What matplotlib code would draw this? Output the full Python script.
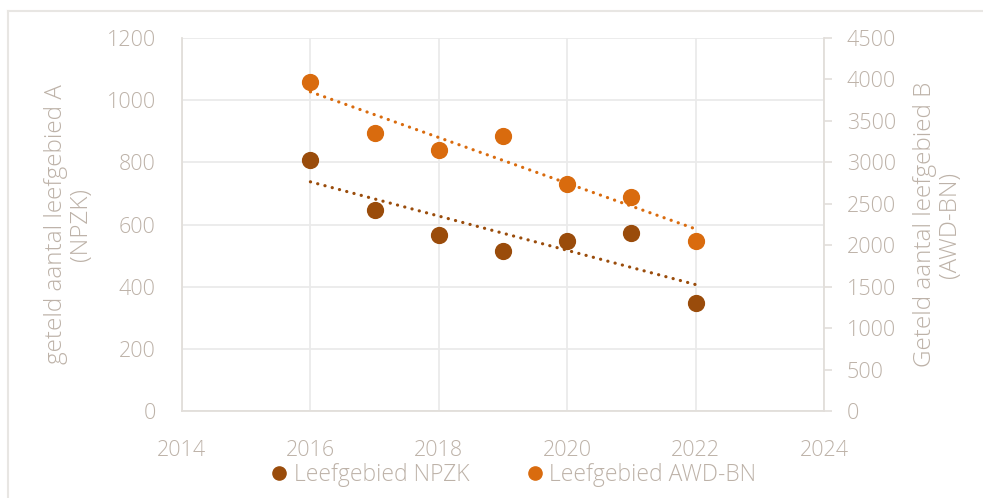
import numpy as np
import matplotlib
matplotlib.use("Agg")
import matplotlib.pyplot as plt
from matplotlib.lines import Line2D

years = [2016, 2017, 2018, 2019, 2020, 2021, 2022]
npzk = [808, 646, 566, 515, 547, 574, 348]
awd = [3973, 3354, 3152, 3314, 2735, 2585, 2051]

label_npzk = "Leefgebied NPZK"
label_awd = "Leefgebied AWD-BN"
ylabel_left = "geteld aantal leefgebied A\n(NPZK)"
ylabel_right = "Geteld aantal leefgebied B\n(AWD-BN)"
xticks = [2014, 2016, 2018, 2020, 2022, 2024]
yticks_left = [0, 200, 400, 600, 800, 1000, 1200]
yticks_right = [0, 500, 1000, 1500, 2000, 2500, 3000, 3500, 4000, 4500]

c_npzk = "#9A4C0B"
c_awd = "#D96B0E"
txt = "#BDB2A8"
grid = "#EAEAEA"
spine = "#E2DEDA"

plt.rcParams['font.family'] = ['Open Sans', 'DejaVu Sans']

fig = plt.figure(figsize=(9.83, 4.98), dpi=100)
ax = fig.add_axes([182/983, 1-411/498, (824-182)/983, (411-38)/498])
ax2 = ax.twinx()

ax.set_xlim(2014, 2024)
ax.set_ylim(0, 1200)
ax2.set_ylim(0, 4500)
ax.set_xticks(xticks)
ax.set_yticks(yticks_left)
ax2.set_yticks(yticks_right)

ax.grid(True, color=grid, linewidth=1.3)
ax.set_axisbelow(True)
for s in ['top', 'right']:
    ax.spines[s].set_visible(False)
ax.spines['left'].set_color(spine)
ax.spines['bottom'].set_color(spine)
ax.spines['left'].set_linewidth(1.3)
ax.spines['bottom'].set_linewidth(1.3)
for s in ['top', 'left', 'bottom']:
    ax2.spines[s].set_visible(False)
ax2.spines['right'].set_color(spine)
ax2.spines['right'].set_linewidth(1.3)

fs = 15.5
ax.tick_params(axis='y', length=0, pad=19, labelsize=fs, labelcolor=txt)
ax.tick_params(axis='x', length=0, pad=21, labelsize=fs, labelcolor=txt)
ax2.tick_params(axis='y', length=5.5, width=1.2, color=spine, pad=11, labelsize=fs, labelcolor=txt)
for lab in ax.get_xticklabels() + ax.get_yticklabels() + ax2.get_yticklabels():
    lab.set_fontweight('light')

# trendlines
x = np.array(years, dtype=float)
for vals, a, col in [(npzk, ax, c_npzk), (awd, ax2, c_awd)]:
    p = np.polyfit(x, np.array(vals, dtype=float), 1)
    xs = np.array([years[0], years[-1]], dtype=float)
    a.plot(xs, np.polyval(p, xs), color=col, linewidth=2.3,
           linestyle=(0, (0.05, 2.3)), dash_capstyle='round', zorder=2)

ax.scatter(years, npzk, s=130, color=c_npzk, zorder=3, clip_on=False)
ax2.scatter(years, awd, s=130, color=c_awd, zorder=3, clip_on=False)

ax.set_ylabel(ylabel_left, color=txt, fontsize=17.5, fontweight='light', labelpad=10, linespacing=1.05)
ax2.set_ylabel(ylabel_right, color=txt, fontsize=17.5, fontweight='light', labelpad=12, linespacing=1.05)

handles = [Line2D([], [], marker='o', linestyle='none', color=c_npzk, markersize=9.5),
           Line2D([], [], marker='o', linestyle='none', color=c_awd, markersize=9.5)]
leg = fig.legend(handles, [label_npzk, label_awd], loc='center', bbox_to_anchor=(512/983, 1-475/498),
                 ncol=2, frameon=False, handlelength=1.0, handletextpad=0.15, columnspacing=2.35,
                 prop=dict(weight='light', size=16.5))
for t in leg.get_texts():
    t.set_color(txt)

# partial outer frame (left and top)
fig.add_artist(Line2D([7.5/983, 7.5/983], [0, 1-11.5/498], color="#E8E6E3", linewidth=1.5, transform=fig.transFigure))
fig.add_artist(Line2D([7.5/983, 1], [1-11.5/498, 1-11.5/498], color="#E8E6E3", linewidth=1.5, transform=fig.transFigure))

fig.savefig("out.png", dpi=100, facecolor='white')
